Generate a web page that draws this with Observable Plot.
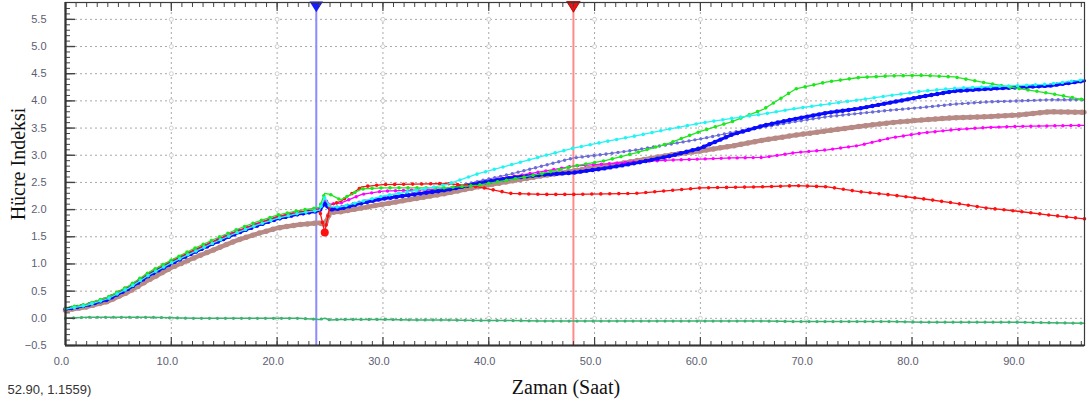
<!DOCTYPE html>
<html>
<head>
<meta charset="utf-8">
<script src="https://cdn.jsdelivr.net/npm/d3@7"></script>
<script src="https://cdn.jsdelivr.net/npm/@observablehq/plot@0.6"></script>
<style>
  html, body { margin: 0; padding: 0; background: #fff; }
  #chart svg { display: block; }
</style>
</head>
<body>
<div id="chart"></div>
<script>
// Measurement times (hours)
const hours = [0, 2, 4, 6, 8, 10, 12, 14, 16, 18, 20, 22, 24, 24.5, 25, 26, 28, 30, 33, 36, 39, 42, 45, 48, 51, 54, 57, 60, 63, 66, 69, 72, 75, 78, 81, 84, 87, 90, 93, 96.3];

// Cell index per well
const greenWell   = [0.19, 0.26, 0.39, 0.60, 0.86, 1.07, 1.27, 1.45, 1.62, 1.77, 1.90, 1.98, 2.04,
  2.30, 2.28, 2.18, 2.38, 2.40, 2.40, 2.40, 2.45, 2.55, 2.66, 2.80, 2.90, 3.05, 3.22, 3.44, 3.62, 3.85, 4.22, 4.35, 4.43, 4.46, 4.47, 4.44, 4.33, 4.23, 4.14, 4.02];
const redWell     = [0.18, 0.25, 0.38, 0.59, 0.85, 1.05, 1.24, 1.41, 1.58, 1.73, 1.86, 1.95, 2.00,
  1.58, 2.08, 2.15, 2.42, 2.46, 2.47, 2.48, 2.42, 2.30, 2.28, 2.28, 2.29, 2.30, 2.35, 2.40, 2.41, 2.42, 2.44, 2.42, 2.33, 2.27, 2.20, 2.12, 2.03, 1.97, 1.90, 1.83];
const cyanWell    = [0.17, 0.24, 0.36, 0.56, 0.81, 1.02, 1.21, 1.39, 1.56, 1.71, 1.84, 1.93, 1.99,
  2.22, 2.05, 2.05, 2.15, 2.25, 2.35, 2.46, 2.66, 2.82, 2.98, 3.13, 3.25, 3.36, 3.48, 3.59, 3.68, 3.76, 3.86, 3.94, 4.02, 4.10, 4.18, 4.23, 4.26, 4.28, 4.31, 4.39];
const blueWell    = [0.17, 0.24, 0.35, 0.55, 0.80, 1.01, 1.20, 1.38, 1.55, 1.70, 1.83, 1.92, 1.98,
  2.12, 2.00, 2.02, 2.12, 2.20, 2.28, 2.36, 2.48, 2.58, 2.64, 2.68, 2.76, 2.86, 2.98, 3.13, 3.38, 3.55, 3.67, 3.78, 3.86, 3.97, 4.08, 4.18, 4.22, 4.25, 4.28, 4.37];
const slateWell   = [0.17, 0.24, 0.35, 0.55, 0.80, 1.00, 1.19, 1.37, 1.54, 1.69, 1.82, 1.91, 1.97,
  2.15, 2.02, 2.05, 2.15, 2.22, 2.30, 2.38, 2.52, 2.65, 2.80, 2.95, 3.02, 3.10, 3.20, 3.30, 3.42, 3.52, 3.62, 3.71, 3.77, 3.83, 3.88, 3.94, 3.98, 4.00, 4.02, 4.02];
const magentaWell = [0.18, 0.25, 0.38, 0.59, 0.84, 1.05, 1.24, 1.42, 1.59, 1.74, 1.87, 1.95, 2.01,
  2.18, 2.10, 2.12, 2.28, 2.34, 2.36, 2.38, 2.50, 2.60, 2.70, 2.80, 2.84, 2.88, 2.91, 2.93, 2.95, 2.96, 3.05, 3.10, 3.18, 3.32, 3.41, 3.47, 3.51, 3.53, 3.54, 3.55];
const brownWell   = [0.15, 0.21, 0.31, 0.49, 0.72, 0.93, 1.10, 1.26, 1.42, 1.55, 1.66, 1.72, 1.76,
  1.72, 1.95, 1.96, 2.03, 2.10, 2.20, 2.30, 2.42, 2.52, 2.62, 2.71, 2.80, 2.90, 3.00, 3.08, 3.17, 3.28, 3.37, 3.45, 3.53, 3.60, 3.65, 3.69, 3.71, 3.74, 3.80, 3.79];
const blankWell   = [0.00, 0.02, 0.02, 0.02, 0.02, 0.01, 0.00, 0.00, 0.00, 0.00, 0.00, 0.00, -0.02,
  0.00, -0.03, -0.02, -0.02, -0.02, -0.03, -0.03, -0.04, -0.04, -0.05, -0.05, -0.05, -0.05, -0.05, -0.05, -0.05, -0.05, -0.06, -0.06, -0.06, -0.06, -0.07, -0.07, -0.07, -0.07, -0.08, -0.09];

// Event markers (hours)
const treatmentTime = 23.7;
const cursorTime = 48.0;

// Axis ticks
const xTicks = [0, 10, 20, 30, 40, 50, 60, 70, 80, 90];
const yTicks = [-0.5, 0, 0.5, 1, 1.5, 2, 2.5, 3, 3.5, 4, 4.5, 5, 5.5];
const xMinor = d3.range(0, 97, 1);
const yMinor = d3.range(-5, 58, 1).map(d => d / 10);

const xDomain = [0, 96.3];
const yDomain = [-0.5, 5.81];

// Series: [name, values, colour, line width, dot size, dot spacing]
const series = [
  ["blank",   blankWell,   "#3cb371", 1.5, 3.2, 8],
  ["brown",   brownWell,   "#b88a86", 4.5, 5.5, 7],
  ["magenta", magentaWell, "#ff00ff", 1.3, 3.4, 8],
  ["slate",   slateWell,   "#6a6ad8", 1.0, 3.4, 6],
  ["blue",    blueWell,    "#0a0aff", 3.0, 4.4, 6],
  ["red",     redWell,     "#ff1010", 1.3, 3.6, 9],
  ["green",   greenWell,   "#1ee61e", 1.3, 3.6, 9],
  ["cyan",    cyanWell,    "#22f4f4", 1.3, 3.6, 9]
];

const W = 1090, H = 409;
const M = {top: 2, right: 6, bottom: 64, left: 65};
const frameW = W - M.left - M.right;
const frameH = H - M.top - M.bottom;

const fmt = d3.format(".1f");
const gridX = xTicks.filter(d => d > 0);
const gridY = yTicks.filter(d => d > -0.5);
const crossings = gridX.flatMap(x => gridY.map(y => ({x, y})));

// downward-pointing triangle for the event markers
const triangleDown = {
  draw(context, size) {
    const s = Math.sqrt(size / 0.433) / 2;
    context.moveTo(-s, -s * 0.6);
    context.lineTo(s, -s * 0.6);
    context.lineTo(0, s * 1.0);
    context.closePath();
  }
};

const lineMarks = series.flatMap(([name, vals, color, w, dot, gap]) => {
  const rows = hours.map((t, i) => ({t, v: vals[i]}));
  return [
    Plot.line(rows, {x: "t", y: "v", stroke: color, strokeWidth: w}),
    Plot.line(rows, {x: "t", y: "v", stroke: color, strokeWidth: dot, strokeLinecap: "round",
      strokeDasharray: `0 ${gap}`})
  ];
});

// the single low reading of the red well right after the treatment
const redDip = hours.map((t, i) => ({t, v: redWell[i]})).filter(d => d.t > 24 && d.t < 25);

const serif = "'Liberation Serif', 'Times New Roman', serif";

const chart = Plot.plot({
  width: W,
  height: H,
  marginTop: M.top, marginRight: M.right, marginBottom: M.bottom, marginLeft: M.left,
  style: {fontFamily: "'Liberation Sans', Arial, sans-serif", fontSize: "11px", background: "#fff"},
  x: {domain: xDomain, axis: null},
  y: {domain: yDomain, axis: null},
  marks: [
    // dotted grid
    Plot.ruleY(gridY, {y: d => d, stroke: "#a8a8a8", strokeDasharray: "2 3", strokeWidth: 1}),
    Plot.ruleX(gridX, {x: d => d, stroke: "#a8a8a8", strokeDasharray: "2 3", strokeWidth: 1}),
    Plot.dot(crossings, {x: "x", y: "y", r: 2, stroke: "#c4c4c4", fill: "#fff", strokeWidth: 0.8}),

    // event lines
    Plot.ruleX([treatmentTime], {x: d => d, stroke: "#8c8cff", strokeWidth: 2}),
    Plot.ruleX([cursorTime], {x: d => d, stroke: "#ff8a8a", strokeWidth: 2}),

    ...lineMarks,
    Plot.dot(redDip, {x: "t", y: "v", r: 4, fill: "#ff1010"}),

    // event markers on the top edge
    Plot.dot([treatmentTime], {x: d => d, y: yDomain[1], symbol: triangleDown, r: 5, fill: "#1a1aff", dy: 3}),
    Plot.dot([cursorTime], {x: d => d, y: yDomain[1], symbol: triangleDown, r: 5, fill: "#ee1010",
      stroke: "#a00000", strokeWidth: 0.8, dy: 3}),

    // tick marks: bottom, top and left edges, pointing inwards
    Plot.tickX(xMinor, {x: d => d, insetTop: frameH - 4, stroke: "#444", strokeWidth: 1}),
    Plot.tickX(xTicks, {x: d => d, insetTop: frameH - 8, stroke: "#444", strokeWidth: 1.2}),
    Plot.tickX(xMinor, {x: d => d, insetBottom: frameH - 5, stroke: "#444", strokeWidth: 1}),
    Plot.tickX(xTicks, {x: d => d, insetBottom: frameH - 9, stroke: "#444", strokeWidth: 1.2}),
    Plot.tickY(yMinor, {y: d => d, insetRight: frameW - 5, stroke: "#444", strokeWidth: 1}),
    Plot.tickY(yTicks, {y: d => d, insetRight: frameW - 10, stroke: "#444", strokeWidth: 1.4}),

    // frame
    Plot.frame({stroke: "#3a3a3a", strokeWidth: 1.2}),
    Plot.ruleX([xDomain[0]], {x: d => d, stroke: "#333", strokeWidth: 2.2}),
    Plot.ruleY([yDomain[0]], {y: d => d, stroke: "#333", strokeWidth: 2.2}),

    // tick labels
    Plot.axisX(xTicks, {tickSize: 0, tickPadding: 12, dx: -4, tickFormat: fmt, fill: "#5d5d72",
      fontSize: 11, label: null}),
    Plot.axisY(yTicks, {tickSize: 0, tickPadding: 19, tickFormat: fmt, fill: "#5d5d72",
      fontSize: 11, label: null}),

    // axis titles and cursor readout
    Plot.text(["Hücre Indeksi"], {frameAnchor: "left", textAnchor: "middle", dx: -47, dy: -10, rotate: -90,
      fontFamily: serif, fontSize: 20, fill: "#111"}),
    Plot.text(["Zaman (Saat)"], {frameAnchor: "bottom", dx: -9, dy: 48,
      fontFamily: serif, fontSize: 20, fill: "#111"}),
    Plot.text(["52.90, 1.1559)"], {frameAnchor: "bottom-left", dx: -58, dy: 48, textAnchor: "start",
      fontSize: 13, fill: "#333"})
  ]
});

document.getElementById("chart").appendChild(chart);
</script>
</body>
</html>
